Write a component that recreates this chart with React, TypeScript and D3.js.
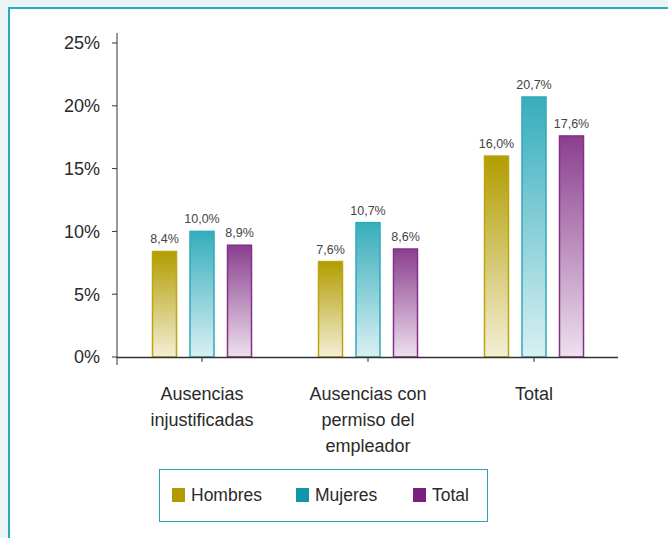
import React from "react";
import * as d3 from "d3";

const categories: string[][] = [
  ["Ausencias", "injustificadas"],
  ["Ausencias con", "permiso del", "empleador"],
  ["Total"],
];
const seriesNames = ["Hombres", "Mujeres", "Total"];
const hombres = [8.4, 7.6, 16.0];
const mujeres = [10.0, 10.7, 20.7];
const total = [8.9, 8.6, 17.6];
const yTicks = [0, 5, 10, 15, 20, 25];

const W = 668;
const H = 538;
const FONT = "'Liberation Sans', Arial, Helvetica, sans-serif";

const palette = [
  { top: "#b29d00", bottom: "#f4efd8", stroke: "#bba512", legend: "#b09a00" },
  { top: "#36adbd", bottom: "#d9f0f3", stroke: "#30a9b9", legend: "#0f97a9" },
  { top: "#8a3f8e", bottom: "#ede0ee", stroke: "#86308c", legend: "#7a1f7f" },
];

export default function App() {
  const series = [hombres, mujeres, total];
  const x0 = 117;
  const x1 = 618;
  const x = d3.scaleBand<number>().domain([0, 1, 2]).range([119, 617]).padding(0);
  const y = d3.scaleLinear().domain([0, 25]).range([357, 43]);
  const inner = d3
    .scaleBand<number>()
    .domain([0, 1, 2])
    .range([-49.5, 49.5])
    .paddingInner(0.36)
    .paddingOuter(0);
  const fmt = (v: number) => v.toFixed(1).replace(".", ",") + "%";

  return (
    <div style={{ position: "fixed", left: 0, top: 0, width: W, height: H }}>
      <svg width={W} height={H} style={{ display: "block", fontFamily: FONT }}>
        <defs>
          {palette.map((p, i) => (
            <linearGradient key={i} id={`g${i}`} x1="0" y1="0" x2="0" y2="1">
              <stop offset="0%" stopColor={p.top} />
              <stop offset="100%" stopColor={p.bottom} />
            </linearGradient>
          ))}
        </defs>
        <rect x={0} y={0} width={W} height={H} fill="#eaf4f6" />
        <rect x={9} y={8} width={W + 20} height={H + 20} fill="#ffffff" stroke="#2aabbd" strokeWidth={2} />

        {/* y axis */}
        <line x1={x0} x2={x0} y1={33} y2={365} stroke="#333" strokeWidth={1} />
        {yTicks.map((t) => (
          <g key={t}>
            <line x1={x0 - 5} x2={x0} y1={y(t)} y2={y(t)} stroke="#333" />
            <text
              x={100}
              y={y(t)}
              dy="0.35em"
              textAnchor="end"
              fontSize={18}
              fill="#2a2a2a"
            >
              {t}%
            </text>
          </g>
        ))}

        {/* bars */}
        {categories.map((_, ci) => {
          const cx = (x(ci) as number) + x.bandwidth() / 2;
          return (
            <g key={ci}>
              {series.map((s, si) => {
                const bx = cx + (inner(si) as number);
                const bw = inner.bandwidth();
                const v = s[ci];
                return (
                  <g key={si}>
                    <rect
                      x={bx}
                      y={y(v)}
                      width={bw}
                      height={y(0) - y(v)}
                      fill={`url(#g${si})`}
                      stroke={palette[si].stroke}
                      strokeWidth={1.5}
                    />
                    <text
                      x={bx + bw / 2}
                      y={y(v) - 8}
                      textAnchor="middle"
                      fontSize={12.5}
                      fill="#444"
                    >
                      {fmt(v)}
                    </text>
                  </g>
                );
              })}
              <line x1={cx} x2={cx} y1={357} y2={362} stroke="#333" />
            </g>
          );
        })}

        {/* x axis */}
        <line x1={x0} x2={x1} y1={357.5} y2={357.5} stroke="#333" strokeWidth={1.5} />

        {/* category labels */}
        {categories.map((lines, ci) => {
          const cx = (x(ci) as number) + x.bandwidth() / 2;
          return (
            <text key={ci} textAnchor="middle" fontSize={18} fill="#2a2a2a">
              {lines.map((l, li) => (
                <tspan key={li} x={cx} y={400 + li * 26}>
                  {l}
                </tspan>
              ))}
            </text>
          );
        })}

        {/* legend */}
        <rect x={159.5} y={469.5} width={328} height={52} fill="#fff" stroke="#2aa3b5" strokeWidth={1} />
        {seriesNames.map((n, i) => {
          const lx = [172, 296, 413][i];
          return (
            <g key={n}>
              <rect x={lx} y={488} width={13} height={14} fill={palette[i].legend} />
              <text x={lx + 19} y={501} fontSize={17.5} fill="#2a2a2a">
                {n}
              </text>
            </g>
          );
        })}
      </svg>
    </div>
  );
}
